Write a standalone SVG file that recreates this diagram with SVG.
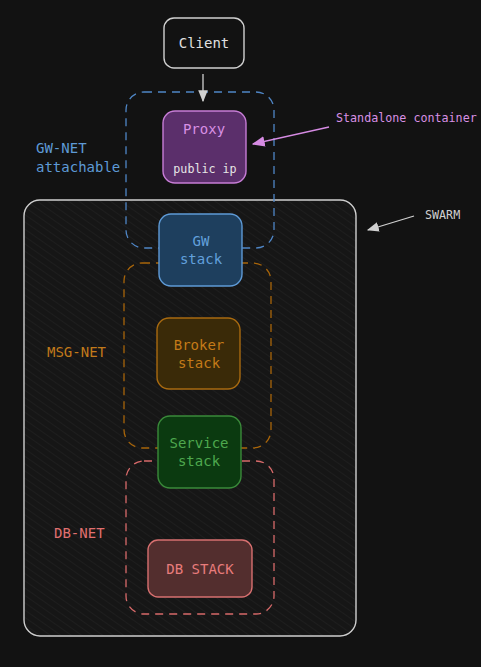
<svg xmlns="http://www.w3.org/2000/svg" width="481" height="667" viewBox="0 0 481 667">
<defs>
<pattern id="hatch" width="6" height="6" patternUnits="userSpaceOnUse" patternTransform="rotate(-55)">
<rect width="6" height="6" fill="#161616"/>
<line x1="0" y1="0" x2="0" y2="6" stroke="#222" stroke-width="1.2"/>
</pattern>
<marker id="ahw" viewBox="0 0 10 10" refX="9" refY="5" markerWidth="12" markerHeight="12" orient="auto" markerUnits="userSpaceOnUse">
<path d="M0,1 L10,5 L0,9 z" fill="#d0d0d0"/>
</marker>
<marker id="ahp" viewBox="0 0 10 10" refX="9" refY="5" markerWidth="13" markerHeight="13" orient="auto" markerUnits="userSpaceOnUse">
<path d="M0,1 L10,5 L0,9 z" fill="#d68be3"/>
</marker>
</defs>
<style>
text{font-family:"DejaVu Sans Mono","Liberation Mono",monospace;font-size:14px;text-anchor:middle;dominant-baseline:central}
.lbl{text-anchor:start}
.small{font-size:11.7px}
.net{fill:none;stroke-width:1.3;stroke-dasharray:8 6}
.node{stroke-width:1.4}
</style>
<rect width="481" height="667" fill="#121212"/>
<g id="swarm">
<rect x="24" y="200" width="332" height="436" rx="16" fill="url(#hatch)" stroke="#cfcfcf" stroke-width="1.4"/>
</g>
<g id="gw-net">
<rect class="net" x="126" y="92" width="148" height="156" rx="18" stroke="#4f86c6"/>
<text class="lbl" x="36" y="148" fill="#5e9ad6">GW-NET</text>
<text class="lbl" x="36" y="167" fill="#5e9ad6">attachable</text>
</g>
<g id="msg-net">
<rect class="net" x="124" y="263" width="147" height="185" rx="18" stroke="#a8650a"/>
<text class="lbl" x="47" y="352" fill="#c27a1a">MSG-NET</text>
</g>
<g id="db-net">
<rect class="net" x="126" y="461" width="148" height="153" rx="18" stroke="#d86a6a"/>
<text class="lbl" x="54" y="533" fill="#e07070">DB-NET</text>
</g>
<g id="connectors">
<line x1="203" y1="74" x2="203" y2="101" stroke="#d0d0d0" stroke-width="1.3" marker-end="url(#ahw)"/>
<line x1="329" y1="127" x2="253" y2="144" stroke="#d68be3" stroke-width="1.3" marker-end="url(#ahp)"/>
<line x1="414" y1="216" x2="368" y2="230" stroke="#d0d0d0" stroke-width="1.3" marker-end="url(#ahw)"/>
</g>
<g id="client">
<rect class="node" x="164" y="18" width="80" height="50" rx="10" fill="#121212" stroke="#d0d0d0"/>
<text x="204" y="43" fill="#e0e0e0">Client</text>
</g>
<g id="proxy">
<rect class="node" x="163" y="111" width="83" height="72" rx="12" fill="#5b2f6b" stroke="#c77dd6"/>
<text x="204" y="129" fill="#d890e4">Proxy</text>
<text x="205" y="169" class="small" fill="#e6e6e6">public ip</text>
</g>
<g id="standalone-label">
<text class="lbl small" x="336" y="118" fill="#d890e4">Standalone container</text>
</g>
<g id="swarm-label">
<text class="lbl small" x="425" y="215" fill="#d0d0d0">SWARM</text>
</g>
<g id="gw-stack">
<rect class="node" x="159" y="214" width="83" height="72" rx="12" fill="#1e3f5e" stroke="#5e9ad6"/>
<text x="201" y="241" fill="#62a0dc">GW</text>
<text x="201" y="259" fill="#62a0dc">stack</text>
</g>
<g id="broker-stack">
<rect class="node" x="157" y="318" width="83" height="71" rx="12" fill="#3a2a08" stroke="#a86a10"/>
<text x="199" y="345" fill="#c47a18">Broker</text>
<text x="199" y="363" fill="#c47a18">stack</text>
</g>
<g id="service-stack">
<rect class="node" x="158" y="416" width="83" height="72" rx="12" fill="#0b3a10" stroke="#3a8a3a"/>
<text x="199" y="443" fill="#4ea84e">Service</text>
<text x="199" y="461" fill="#4ea84e">stack</text>
</g>
<g id="db-stack">
<rect class="node" x="148" y="540" width="104" height="57" rx="10" fill="#532e2e" stroke="#d87070"/>
<text x="200" y="569" fill="#e87c7c">DB STACK</text>
</g>
</svg>
